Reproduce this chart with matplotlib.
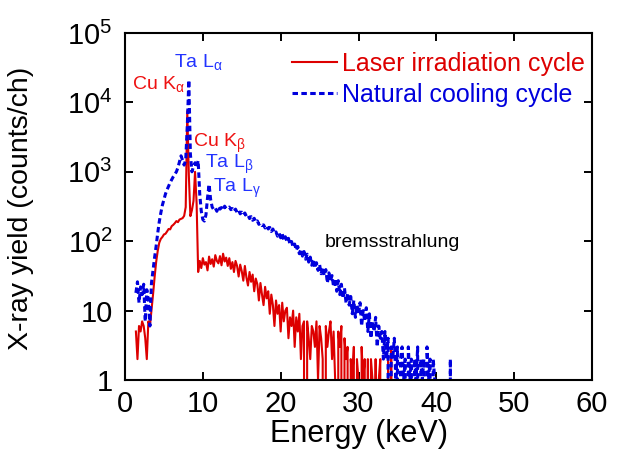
import numpy as np
import matplotlib
matplotlib.use('Agg')
import matplotlib.pyplot as plt
from matplotlib.ticker import FixedLocator, FixedFormatter, NullLocator

plt.rcParams['font.family'] = ['Liberation Sans', 'DejaVu Sans']
plt.rcParams['mathtext.fontset'] = 'custom'
plt.rcParams['mathtext.rm'] = 'Liberation Sans'
plt.rcParams['mathtext.it'] = 'Liberation Sans'
plt.rcParams['mathtext.bf'] = 'Liberation Sans:bold'

# spectra, one value per 0.2 keV channel starting at 1.4 keV (counts/ch)
e_start = 1.4
e_step = 0.2
laser = [5, 2, 6, 5, 7, 6, 4, 2, 7, 6,                     # 1.4 - 3.2
         10, 17, 30, 50, 72, 95, 108, 115, 125, 128,       # 3.4 - 5.2
         138, 150, 148, 165, 172, 182, 195, 188, 205, 210,  # 5.4 - 7.2
         215, 232, 310, 7500, 900, 230, 280, 380, 1000, 350,  # 7.4 - 9.2
         36, 52, 41, 57, 46, 50, 38, 60, 47, 55,           # 9.4 - 11.2
         43, 63, 52, 48, 61, 45, 66, 51, 58, 44,           # 11.4 - 13.2
         57, 40, 50, 36, 52, 44, 31, 46, 37, 27,           # 13.4 - 15.2
         44, 30, 23, 36, 26, 33, 19, 29, 24, 14,           # 15.4 - 17.2
         25, 17, 12, 22, 15, 19, 9, 17, 12, 6,             # 17.4 - 19.2
         14, 9, 12, 5, 13, 7, 10, 11, 4, 8,                # 19.4 - 21.2
         6, 10, 3, 8, 5, 9, 2, 6, 7, 0,                    # 21.4 - 23.2
         7, 4, 2, 6, 5, 3, 7, 1, 6, 4,                     # 23.4 - 25.2
         2, 0, 6, 3, 5, 7, 2, 5, 1, 0,                     # 25.4 - 27.2
         5, 3, 6, 0, 4, 2, 3, 0, 2, 1,                     # 27.4 - 29.2
         3, 0, 2, 1, 0, 3, 1, 2, 0, 2,                     # 29.4 - 31.2
         0, 2, 1, 0, 2, 0, 1, 2, 0, 1,                     # 31.4 - 33.2
         0, 0, 2, 0, 3, 0, 0, 1, 0]                        # 33.4 - 35.0
cooling = [18, 26, 13, 22, 17, 24, 7, 20, 14, 6,           # 1.4 - 3.2
           25, 38, 58, 85, 130, 190, 255, 330, 400, 480,   # 3.4 - 5.2
           550, 620, 700, 770, 850, 920, 1000, 1150, 1400, 1700,  # 5.4 - 7.2
           1450, 1250, 1500, 4500, 21000, 1800, 1000, 1200, 1350, 1150,  # 7.4 - 9.2
           1450, 480, 270, 205, 195, 240, 420, 660, 400, 310,  # 9.4 - 11.2
           285, 300, 270, 315, 290, 305, 280, 320, 295, 300,   # 11.4 - 13.2
           310, 285, 295, 270, 290, 260, 278, 248, 262, 240,   # 13.4 - 15.2
           255, 228, 238, 212, 226, 200, 214, 188, 196, 175,   # 15.4 - 17.2
           182, 168, 172, 155, 166, 150, 158, 138, 150, 130,   # 17.4 - 19.2
           136, 118, 130, 112, 127, 103, 116, 100, 110, 90,    # 19.4 - 21.2
           99, 82, 91, 74, 84, 66, 77, 61, 71, 55,             # 21.4 - 23.2
           65, 50, 59, 45, 55, 41, 49, 38, 46, 34,             # 23.4 - 25.2
           42, 32, 39, 25, 35, 27, 32, 22, 29, 19,             # 25.4 - 27.2
           27, 17, 24, 15, 21, 13, 18, 12, 16, 9,              # 27.4 - 29.2
           14, 8, 12, 9, 13, 6, 10, 7, 11, 5,                  # 29.4 - 31.2
           9, 4, 7, 5, 8, 3, 6, 4, 5, 2,                       # 31.4 - 33.2
           5, 2, 4, 0, 3, 2, 4, 1, 3, 0,                       # 33.4 - 35.2
           2, 3, 1, 2, 0, 3, 1, 2, 0, 2,                       # 35.4 - 37.2
           1, 3, 0, 2, 1, 2, 0, 3, 1, 2,                       # 37.4 - 39.2
           0, 2, 1, 0, 0, 0, 0, 0, 0, 0,                       # 39.4 - 41.2
           0, 0, 2, 0]                                         # 41.4 - 42.0

peak_labels = [r'Cu K$_{\alpha}$', r'Ta L$_{\alpha}$', r'Cu K$_{\beta}$',
               r'Ta L$_{\beta}$', r'Ta L$_{\gamma}$', 'bremsstrahlung']
peak_x = [0.9, 6.3, 8.75, 10.3, 11.3, 25.7]
peak_y = [15500, 32000, 2300, 1120, 510, 83]
peak_colors = ['#ee1111', '#2233ff', '#ee1111', '#2233ff', '#2233ff', 'black']

yticks = [1, 10, 100, 1000, 10000, 100000]
yticklabels = ['1', '10', '$10^2$', '$10^3$', '$10^4$', '$10^5$']

e_laser = e_start + e_step * np.arange(len(laser))
e_cool = e_start + e_step * np.arange(len(cooling))

fig = plt.figure(figsize=(6.21, 4.55), dpi=100)
ax = fig.add_axes([0.2013, 0.1648, 0.752, 0.7627])

ax.plot(e_laser, laser, color='#dd0000', lw=1.5, label='Laser irradiation cycle')
ax.plot(e_cool, cooling, color='#0000dd', lw=2.2, linestyle=(0, (1.8, 1.1)),
        label='Natural cooling cycle')

ax.set_yscale('log', nonpositive='clip')
ax.set_xlim(0, 60)
ax.set_ylim(1, 1e5)
ax.yaxis.set_major_locator(FixedLocator(yticks))
ax.yaxis.set_major_formatter(FixedFormatter(yticklabels))
ax.yaxis.set_minor_locator(NullLocator())
ax.set_xticks([0, 10, 20, 30, 40, 50, 60])

ax.tick_params(direction='in', top=True, right=True, length=6, width=1.4,
               labelsize=21)
ax.tick_params(axis='x', pad=7)
ax.tick_params(axis='y', pad=9)
for s in ax.spines.values():
    s.set_linewidth(1.5)

ax.set_xlabel('Energy (keV)', fontsize=22)
ax.set_ylabel('X-ray yield (counts/ch)', fontsize=20.5)
ax.xaxis.set_label_coords(0.5, -0.112)
ax.yaxis.set_label_coords(-0.195, 0.495)

for lab, x, y, c in zip(peak_labels, peak_x, peak_y, peak_colors):
    ax.text(x, y, lab, color=c, fontsize=14, ha='left', va='baseline')

leg = ax.legend(loc='upper right', bbox_to_anchor=(1.0, 0.968), frameon=False,
                fontsize=18, handlelength=1.8, handletextpad=0.2,
                labelspacing=0.3, borderaxespad=0.1, borderpad=0.2,
                labelcolor='linecolor')

fig.savefig('out.png', dpi=100)
